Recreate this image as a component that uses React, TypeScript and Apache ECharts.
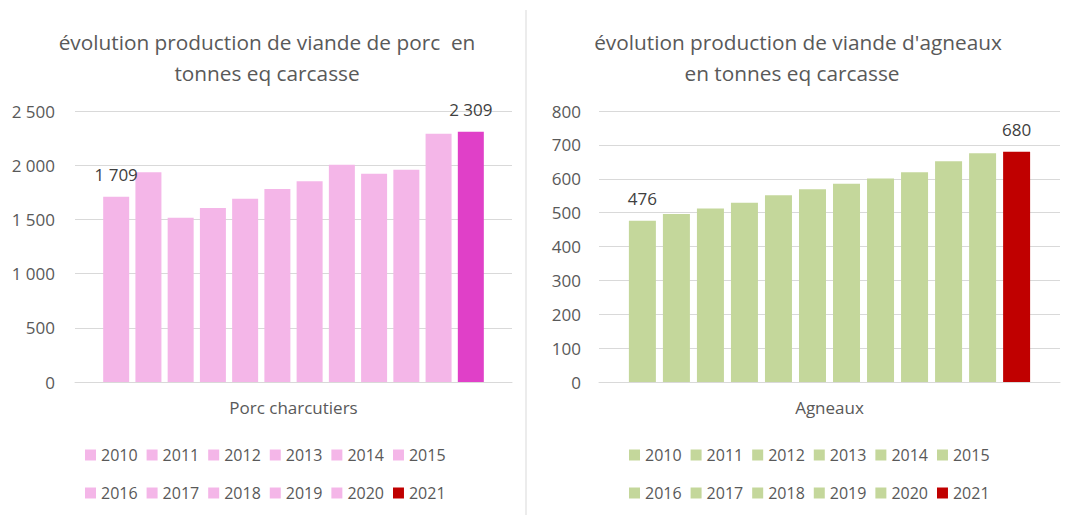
import React, { useEffect, useRef } from "react";
import * as echarts from "echarts";

const years = ["2010", "2011", "2012", "2013", "2014", "2015", "2016", "2017", "2018", "2019", "2020", "2021"];
const porcValues = [1709, 1935, 1515, 1605, 1691, 1781, 1852, 2005, 1920, 1957, 2290, 2309];
const agneauxValues = [476, 496, 512, 529, 551, 569, 585, 601, 619, 652, 675, 680];
const porcCategory = ["Porc charcutiers"];
const agneauxCategory = ["Agneaux"];

const FONT = "'Open Sans', sans-serif";
const TXT = "#595959";
const GRID = "#D9D9D9";
const PINK = "#F4B6E8";
const MAGENTA = "#E040C8";
const GREEN = "#C4D79B";
const RED = "#C00000";

const fmt = (v: number) => String(v).replace(/\B(?=(\d{3})+(?!\d))/g, " ");

export default function App() {
  const ref = useRef<HTMLDivElement>(null);
  useEffect(() => {
    if (!ref.current) return;
    const chart = echarts.init(ref.current, undefined, { renderer: "svg" });

    const labelFor = (i: number) =>
      i === 0 || i === years.length - 1
        ? {
            show: true,
            position: "top",
            distance: 14,
            fontFamily: FONT,
            fontSize: 17,
            color: "#404040",
            formatter: (p: any) => fmt(p.value),
          }
        : { show: false };

    const porcSeries = years.map((y, i) => ({
      type: "bar",
      name: y,
      xAxisIndex: 0,
      yAxisIndex: 0,
      data: [porcValues[i]],
      barWidth: 26,
      barGap: "24%",
      itemStyle: { color: i === years.length - 1 ? MAGENTA : PINK },
      label: labelFor(i),
    }));
    const agnSeries = years.map((y, i) => ({
      type: "bar",
      name: y,
      xAxisIndex: 1,
      yAxisIndex: 1,
      data: [agneauxValues[i]],
      barWidth: 27,
      barGap: "26%",
      itemStyle: { color: i === years.length - 1 ? RED : GREEN },
      label: labelFor(i),
    }));

    const legendData = (list: string[], base: string) =>
      list.map((y) => ({
        name: y,
        icon: "rect",
        itemStyle: { color: y === "2021" ? RED : base },
      }));

    const mkLegend = (left: number, top: number, list: string[], base: string) => ({
      left,
      top,
      padding: 0,
      orient: "horizontal",
      itemWidth: 11,
      itemHeight: 11,
      itemGap: 9,
      selectedMode: false,
      textStyle: { fontFamily: FONT, fontSize: 16, color: TXT },
      data: legendData(list, base),
    });

    const row1 = years.slice(0, 6);
    const row2 = years.slice(6);

    const yAxisCommon = {
      type: "value",
      min: 0,
      axisLine: { show: false },
      axisTick: { show: false },
      splitLine: { lineStyle: { color: GRID, width: 1 } },
      axisLabel: {
        fontFamily: FONT,
        fontSize: 17,
        color: TXT,
        formatter: (v: number) => fmt(v),
      },
    };
    const xAxisCommon = {
      type: "category",
      axisLine: { lineStyle: { color: GRID } },
      axisTick: { show: false },
      axisLabel: { fontFamily: FONT, fontSize: 17, color: TXT, margin: 17 },
    };

    const titleText = (text: string, x: number, y: number) => ({
      type: "text",
      x,
      y,
      style: {
        text,
        fontFamily: FONT,
        fontSize: 20.8,
        fill: TXT,
        textAlign: "center",
        textVerticalAlign: "middle",
      },
    });

    chart.setOption({
      animation: false,
      backgroundColor: "#ffffff",
      grid: [
        { left: 75, right: 553, top: 111, bottom: 135 },
        { left: 599, right: 5, top: 111, bottom: 135 },
      ],
      xAxis: [
        { ...xAxisCommon, gridIndex: 0, data: porcCategory },
        { ...xAxisCommon, gridIndex: 1, data: agneauxCategory },
      ],
      yAxis: [
        { ...yAxisCommon, gridIndex: 0, max: 2500, interval: 500, axisLabel: { ...yAxisCommon.axisLabel, margin: 20 } },
        { ...yAxisCommon, gridIndex: 1, max: 800, interval: 100, axisLabel: { ...yAxisCommon.axisLabel, margin: 18 } },
      ],
      legend: [
        mkLegend(85, 447, row1, PINK),
        mkLegend(85, 485, row2, PINK),
        mkLegend(629, 447, row1, GREEN),
        mkLegend(629, 485, row2, GREEN),
      ],
      graphic: [
        titleText("évolution production de viande de porc  en", 267, 42),
        titleText("tonnes eq carcasse", 267, 73),
        titleText("évolution production de viande d'agneaux", 798, 42),
        titleText("en tonnes eq carcasse", 792, 73),
        {
          type: "line",
          shape: { x1: 526, y1: 10, x2: 526, y2: 515 },
          style: { stroke: GRID, lineWidth: 1 },
        },
      ],
      series: [...porcSeries, ...agnSeries],
    });

    return () => chart.dispose();
  }, []);

  return (
    <div
      ref={ref}
      style={{ position: "absolute", left: 0, top: 0, width: 1065, height: 517, background: "#fff" }}
    />
  );
}
